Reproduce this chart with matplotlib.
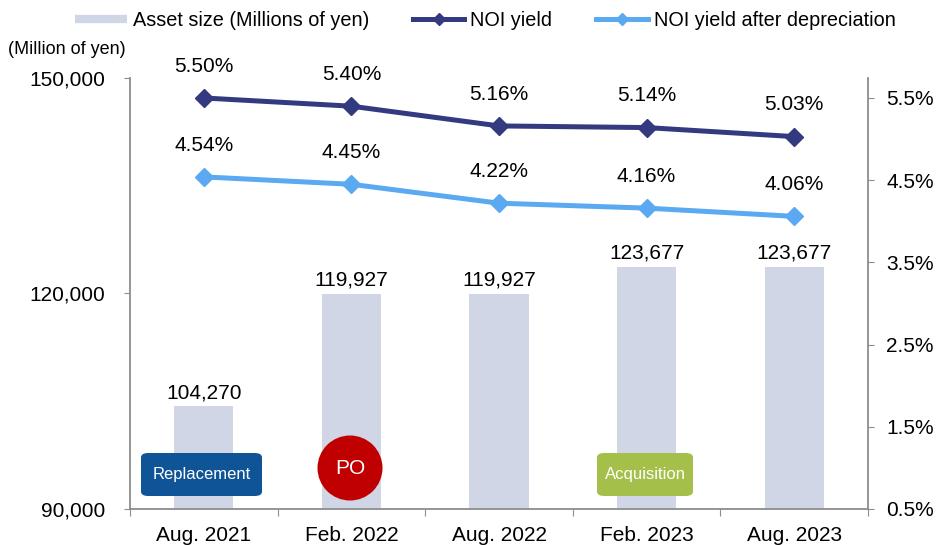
import matplotlib.pyplot as plt
from matplotlib.patches import FancyBboxPatch, Ellipse
from matplotlib.lines import Line2D

plt.rcParams['font.family'] = ['Liberation Sans', 'DejaVu Sans']

periods = ['Aug. 2021', 'Feb. 2022', 'Aug. 2022', 'Feb. 2023', 'Aug. 2023']
asset_size = [104270, 119927, 119927, 123677, 123677]
noi_yield = [5.50, 5.40, 5.16, 5.14, 5.03]
noi_after_dep = [4.54, 4.45, 4.22, 4.16, 4.06]

bar_color = '#D0D6E6'
noi_color = '#333A7F'
dep_color = '#5BA9F0'
axis_color = '#8C8C8C'
fs = 15

fig = plt.figure(figsize=(9.37, 5.45), dpi=100)
ax = fig.add_axes([130 / 937, 1 - 509 / 545, 738 / 937, 431 / 545])
x = list(range(len(periods)))

ax.bar(x, asset_size, width=0.4, color=bar_color, zorder=1)
ax.set_ylim(90000, 150000)
ax.set_xlim(-0.5, 4.5)
yt = [90000, 120000, 150000]
ax.set_yticks(yt)
ax.set_yticklabels(['{:,}'.format(v) for v in yt], fontsize=fs)
for xi, v in zip(x, asset_size):
    ax.text(xi, v + 600, '{:,}'.format(v), ha='center', va='bottom', fontsize=fs)

# category ticks at boundaries, labels centered
ax.set_xticks([i - 0.5 for i in range(len(periods) + 1)])
ax.set_xticklabels([])
ax.set_xticks(x, minor=True)
ax.set_xticklabels(periods, minor=True, fontsize=fs)
ax.tick_params(axis='x', which='minor', length=0, pad=12)
ax.tick_params(axis='x', which='major', length=5, color=axis_color)
ax.tick_params(axis='y', length=4, color=axis_color, pad=14)

for side in ['top', 'right']:
    ax.spines[side].set_visible(False)
for side in ['left', 'bottom']:
    ax.spines[side].set_color(axis_color)
    ax.spines[side].set_linewidth(1.3)

ax2 = ax.twinx()
ax2.set_ylim(0.5, 5.743)
rt = [0.5, 1.5, 2.5, 3.5, 4.5, 5.5]
ax2.set_yticks(rt)
ax2.set_yticklabels(['{:.1f}%'.format(v) for v in rt], fontsize=fs)
ax2.tick_params(axis='y', length=4, color=axis_color, pad=9)
for side in ['top', 'left', 'bottom']:
    ax2.spines[side].set_visible(False)
ax2.spines['right'].set_color(axis_color)
ax2.spines['right'].set_linewidth(1.3)

ax2.plot(x, noi_yield, color=noi_color, lw=3.6, marker='D', ms=9.5, zorder=3)
ax2.plot(x, noi_after_dep, color=dep_color, lw=3.6, marker='D', ms=9.5, zorder=3)
for xi, v in zip(x, noi_yield):
    ax2.text(xi, v + 0.27, '{:.2f}%'.format(v), ha='center', va='bottom', fontsize=fs)
for xi, v in zip(x, noi_after_dep):
    ax2.text(xi, v + 0.27, '{:.2f}%'.format(v), ha='center', va='bottom', fontsize=fs)

# event markers
def px(xp, yp):
    return fig.transFigure.inverted().transform((xp, 545 - yp))

def add_box(x0, y0, x1, y1, color, label):
    a = px(x0, y1)
    b = px(x1, y0)
    box = FancyBboxPatch((a[0], a[1]), b[0] - a[0], b[1] - a[1],
                         boxstyle='round,pad=0,rounding_size=0.008',
                         transform=fig.transFigure, facecolor=color, edgecolor='none', zorder=5)
    fig.patches.append(box)
    fig.text((a[0] + b[0]) / 2, (a[1] + b[1]) / 2, label, color='white',
             ha='center', va='center', fontsize=12, zorder=6)

add_box(141, 453, 262, 496, '#0F5497', 'Replacement')
add_box(597, 453, 693, 496, '#A4C04A', 'Acquisition')
c = px(350, 468)
fig.patches.append(Ellipse(c, 65 / 937, 65 / 545, transform=fig.transFigure,
                           facecolor='#C00000', edgecolor='none', zorder=5))
fig.text(c[0], c[1], 'PO', color='white', ha='center', va='center', fontsize=15, zorder=6)

fig.text(8 / 937, 1 - 49 / 545, '(Million of yen)', fontsize=13, va='center', ha='left')

handles = [Line2D([], [], color=bar_color, lw=6, solid_capstyle='butt'),
           Line2D([], [], color=noi_color, lw=3.6, marker='D', ms=6),
           Line2D([], [], color=dep_color, lw=3.6, marker='D', ms=6)]
labels = ['Asset size (Millions of yen)', 'NOI yield', 'NOI yield after depreciation']
fig.legend(handles, labels, loc='center', bbox_to_anchor=(0.518, 1 - 20 / 545), ncol=3,
           frameon=False, fontsize=14.3, handlelength=2.6, handletextpad=0.3, columnspacing=2.2)

fig.savefig('out.png', dpi=100)
